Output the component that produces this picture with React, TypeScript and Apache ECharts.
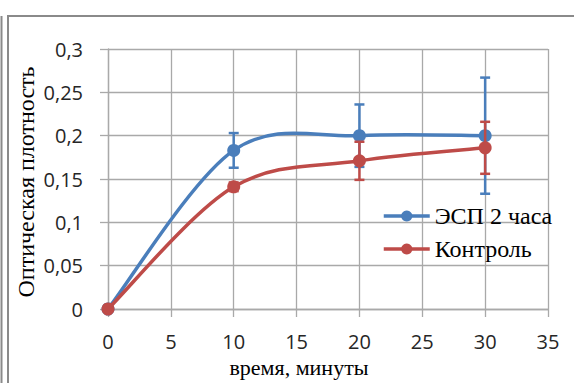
import React, { useEffect, useRef } from "react";
import * as echarts from "echarts";

const xTicks = [0, 5, 10, 15, 20, 25, 30, 35];
const espX = [0, 10, 20, 30];
const espY = [0, 0.183, 0.2, 0.2];
const espErr = [0, 0.02, 0.036, 0.067];
const ctrlX = [0, 10, 20, 30];
const ctrlY = [0, 0.141, 0.171, 0.186];
const ctrlErr = [0, 0.005, 0.022, 0.03];
const seriesNames = ["ЭСП 2 часа", "Контроль"];
const xTitle = "время, минуты";
const yTitle = "Оптическая плотность";

const BLUE = "#4a7ebb";
const RED = "#be4b48";

function errorSeries(xs: number[], ys: number[], errs: number[], color: string, z: number) {
  return {
    type: "custom",
    z,
    silent: true,
    data: xs.map((x, i) => [x, ys[i] - errs[i], ys[i] + errs[i]]).filter((_, i) => errs[i] > 0),
    renderItem: (params: any, api: any) => {
      const x = api.value(0);
      const lo = api.coord([x, api.value(1)]);
      const hi = api.coord([x, api.value(2)]);
      const w = 5;
      const st = { stroke: color, lineWidth: 2.5 };
      return {
        type: "group",
        children: [
          { type: "line", shape: { x1: lo[0], y1: lo[1], x2: hi[0], y2: hi[1] }, style: st },
          { type: "line", shape: { x1: lo[0] - w, y1: lo[1], x2: lo[0] + w, y2: lo[1] }, style: st },
          { type: "line", shape: { x1: hi[0] - w, y1: hi[1], x2: hi[0] + w, y2: hi[1] }, style: st },
        ],
      };
    },
  };
}

// Smooth curve (Excel-like) drawn through the data points mapped by the axes.
function curveSeries(xs: number[], ys: number[], color: string, z: number) {
  return {
    type: "custom",
    z,
    silent: true,
    data: xs.map((x, i) => [x, ys[i]]),
    renderItem: (params: any, api: any) => {
      const i = params.dataIndex;
      const n = xs.length;
      if (i >= n - 1) return null;
      const P = (k: number) => {
        const kk = Math.max(0, Math.min(n - 1, k));
        return api.coord([xs[kk], ys[kk]]);
      };
      const p0 = P(i - 1), p1 = P(i), p2 = P(i + 1), p3 = P(i + 2);
      const t = 1 / 6;
      return {
        type: "bezierCurve",
        shape: {
          x1: p1[0], y1: p1[1],
          cpx1: p1[0] + (p2[0] - p0[0]) * t, cpy1: p1[1] + (p2[1] - p0[1]) * t,
          cpx2: p2[0] - (p3[0] - p1[0]) * t, cpy2: p2[1] - (p3[1] - p1[1]) * t,
          x2: p2[0], y2: p2[1],
        },
        style: { stroke: color, lineWidth: 3.5, fill: "none", lineCap: "round" },
      };
    },
  };
}

export default function App() {
  const ref = useRef<HTMLDivElement>(null);
  useEffect(() => {
    document.body.style.margin = "0";
    const chart = echarts.init(ref.current!, null, { renderer: "svg" });
    const gridColor = "#a9a9a9";
    const labelFont = { fontFamily: "Open Sans", fontSize: 20, color: "#262626" };
    chart.setOption({
      animation: false,
      backgroundColor: "#fff",
      grid: { left: 108, right: 26, top: 49, bottom: 74, containLabel: false },
      xAxis: {
        type: "value",
        min: xTicks[0],
        max: xTicks[xTicks.length - 1],
        interval: 5,
        axisLine: { show: true, lineStyle: { color: gridColor, width: 1.3 } },
        axisTick: { show: true, inside: false, length: 8, lineStyle: { color: gridColor, width: 1.3 } },
        splitLine: { show: true, lineStyle: { color: gridColor, width: 1.3 } },
        axisLabel: { ...labelFont, margin: 22 },
      },
      yAxis: {
        type: "value",
        min: 0,
        max: 0.3,
        interval: 0.05,
        axisLine: { show: true, lineStyle: { color: gridColor, width: 1.3 } },
        axisTick: { show: true, inside: false, length: 8, lineStyle: { color: gridColor, width: 1.3 } },
        splitLine: { show: true, lineStyle: { color: gridColor, width: 1.3 } },
        axisLabel: {
          ...labelFont,
          margin: 25,
          formatter: (v: number) => (v === 0 ? "0" : String(+v.toFixed(2)).replace(".", ",")),
        },
      },
      legend: {
        orient: "vertical",
        left: 377,
        top: 199,
        itemWidth: 46,
        itemHeight: 14,
        itemGap: 9,
        textStyle: { fontFamily: "Liberation Serif", fontSize: 24, color: "#000" },
        data: [
          { name: seriesNames[0], lineStyle: { color: BLUE, width: 3.5, opacity: 1 } },
          { name: seriesNames[1], lineStyle: { color: RED, width: 3.5, opacity: 1 } },
        ],
      },
      graphic: [
        { type: "rect", shape: { x: 8, y: 15, width: 566, height: 2 }, style: { fill: "#8a8a8a" } },
        { type: "rect", shape: { x: 0.5, y: 16, width: 2, height: 367 }, style: { fill: "#8a8a8a" } },
        { type: "rect", shape: { x: 7, y: 15, width: 2, height: 368 }, style: { fill: "#8a8a8a" } },
        {
          type: "text",
          x: 299,
          y: 367,
          style: {
            text: xTitle,
            fontFamily: "Liberation Serif",
            fontSize: 22,
            fill: "#000",
            textAlign: "center",
            textVerticalAlign: "middle",
          },
        },
        {
          type: "text",
          x: 26,
          y: 182,
          rotation: Math.PI / 2,
          style: {
            text: yTitle,
            fontFamily: "Liberation Serif",
            fontSize: 24,
            fill: "#000",
            textAlign: "center",
            textVerticalAlign: "middle",
          },
        },
      ],
      series: [
        curveSeries(espX, espY, BLUE, 1),
        errorSeries(espX, espY, espErr, BLUE, 2),
        {
          name: seriesNames[0],
          type: "line",
          z: 3,
          symbol: "circle",
          symbolSize: 13,
          itemStyle: { color: BLUE },
          lineStyle: { color: BLUE, width: 3.5, opacity: 0 },
          data: espX.map((x, i) => [x, espY[i]]),
        },
        curveSeries(ctrlX, ctrlY, RED, 4),
        errorSeries(ctrlX, ctrlY, ctrlErr, RED, 5),
        {
          name: seriesNames[1],
          type: "line",
          z: 6,
          symbol: "circle",
          symbolSize: 13,
          itemStyle: { color: RED },
          lineStyle: { color: RED, width: 3.5, opacity: 0 },
          data: ctrlX.map((x, i) => [x, ctrlY[i]]),
        },
      ],
    });
    return () => chart.dispose();
  }, []);
  return <div ref={ref} style={{ width: 574, height: 383 }} />;
}
